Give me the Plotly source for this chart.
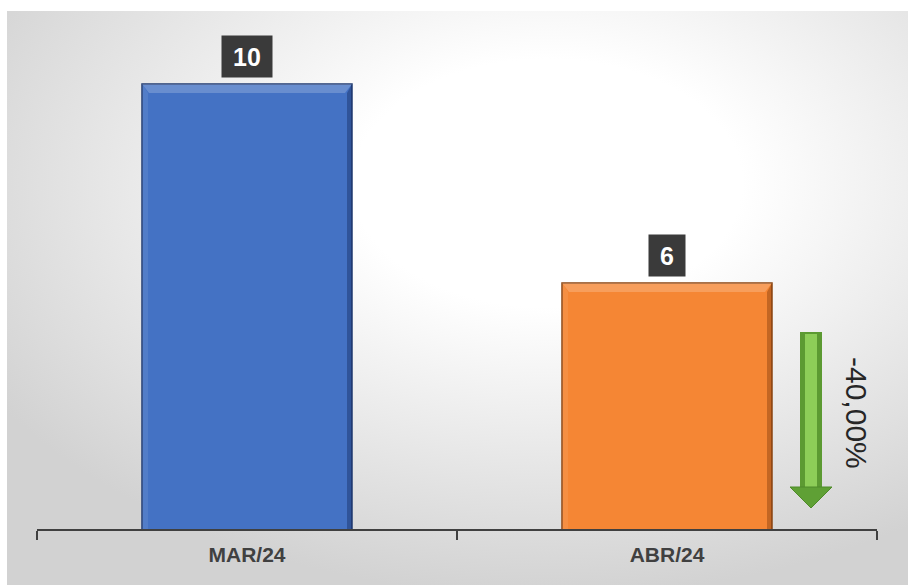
import base64
import plotly.graph_objects as go

# ---- data ----
categories = ["MAR/24", "ABR/24"]
values = [10, 6]
bar_colors = ["#4472C4", "#F58634"]
edge_colors = ["#1F3A70", "#8A4410"]
dark_side = ["rgba(20,40,90,0.4)", "rgba(120,55,10,0.4)"]

W, H = 908, 585
ML, MR, MT, MB = 37, 31, 11, 56
PW, PH = W - ML - MR, H - MT - MB
YMIN, YMAX = 1.055, 11.467
BARW = 0.5

def px_x(px):
    return (px - ML) / PW

def px_y(py):
    return (H - MB - py) / PH

# change label
pct = (values[1] - values[0]) / values[0] * 100
pct_text = f"{pct:.2f}%".replace(".", ",")

fig = go.Figure()
fig.add_trace(go.Bar(
    x=categories, y=values, width=BARW,
    marker=dict(color=bar_colors, line=dict(color=edge_colors, width=1.5)),
    hoverinfo="skip",
))

# background radial gradient
svg = ("<svg xmlns='http://www.w3.org/2000/svg' width='901' height='574' viewBox='0 0 901 574' preserveAspectRatio='none'>"
       "<defs><radialGradient id='g' cx='0.6' cy='0.3' r='0.72'>"
       "<stop offset='0' stop-color='#ffffff'/><stop offset='0.3' stop-color='#ffffff'/>"
       "<stop offset='1' stop-color='#d2d2d2'/></radialGradient></defs>"
       "<rect x='0' y='0' width='901' height='574' fill='url(#g)'/></svg>")
src = "data:image/svg+xml;base64," + base64.b64encode(svg.encode()).decode()

annotations = []
for c, v in zip(categories, values):
    t = str(v)
    annotations.append(dict(
        x=c, y=v, text=f"<b>{t}</b>", showarrow=False, yanchor="bottom", yshift=6,
        font=dict(family="Liberation Sans, Arial", size=25, color="white"),
        bgcolor="#3a3a3a", borderpad=6, width=14 * len(t) + 10, height=29,
    ))

annotations.append(dict(
    xref="paper", yref="paper", x=px_x(857), y=px_y(413), text=pct_text,
    textangle=90, showarrow=False, xanchor="center", yanchor="middle",
    font=dict(family="Liberation Sans, Arial", size=30, color="#262626"),
))

# bevel effect on bars (derived from the bar data)
ypx = PH / (YMAX - YMIN)   # pixels per unit
xpx = PW / len(categories)  # pixels per category
shapes = []
for i, v in enumerate(values):
    x0, x1 = i - BARW / 2, i + BARW / 2
    shapes.append(dict(type="path", xref="x", yref="y", layer="above",
                       path=(f"M {x0} {v} L {x1} {v} L {x1 - 7/xpx} {v - 9/ypx} "
                             f"L {x0 + 7/xpx} {v - 9/ypx} Z"),
                       fillcolor="rgba(255,255,255,0.2)", line=dict(width=0)))
    shapes.append(dict(type="path", xref="x", yref="y", layer="above",
                       path=(f"M {x1} {v} L {x1} {YMIN} L {x1 - 5/xpx} {YMIN} "
                             f"L {x1 - 5/xpx} {v - 9/ypx} Z"),
                       fillcolor=dark_side[i], line=dict(width=0)))
    shapes.append(dict(type="path", xref="x", yref="y", layer="above",
                       path=(f"M {x0} {v} L {x0 + 6/xpx} {v - 9/ypx} L {x0 + 6/xpx} {YMIN} "
                             f"L {x0} {YMIN} Z"),
                       fillcolor="rgba(255,255,255,0.08)", line=dict(width=0)))

# green arrow
shapes += [
    dict(type="rect", xref="paper", yref="paper", x0=px_x(800), x1=px_x(822),
         y0=px_y(488), y1=px_y(332), fillcolor="#5c9a32", line=dict(width=0)),
    dict(type="rect", xref="paper", yref="paper", x0=px_x(805), x1=px_x(817),
         y0=px_y(488), y1=px_y(334), fillcolor="#8dcd58", line=dict(width=0)),
    dict(type="path", xref="paper", yref="paper",
         path=f"M {px_x(790)} {px_y(487)} L {px_x(832)} {px_y(487)} L {px_x(811)} {px_y(508)} Z",
         fillcolor="#5fa035", line=dict(color="#4f8a2a", width=1)),
]

fig.update_layout(
    width=W, height=H,
    margin=dict(l=ML, r=MR, t=MT, b=MB, pad=0),
    paper_bgcolor="white", plot_bgcolor="rgba(0,0,0,0)",
    showlegend=False,
    xaxis=dict(showline=True, linecolor="#404040", linewidth=2,
               ticks="outside", tickson="boundaries", ticklen=9, tickwidth=2,
               tickcolor="#404040", showgrid=False, zeroline=False,
               ticklabelstandoff=6,
               tickfont=dict(family="Liberation Sans, Arial", size=21, color="#404040"),
               tickprefix="<b>", ticksuffix="</b>", fixedrange=True),
    yaxis=dict(range=[YMIN, YMAX], visible=False, fixedrange=True),
    images=[dict(source=src, xref="paper", yref="paper", x=px_x(7), y=px_y(11),
                 sizex=901 / PW, sizey=574 / PH, sizing="stretch",
                 xanchor="left", yanchor="top", layer="below")],
    annotations=annotations, shapes=shapes,
)

fig.write_html("out.html", config={"displayModeBar": False},
               post_script="document.body.style.margin='0';document.body.style.overflow='hidden';document.documentElement.style.overflow='hidden';")
